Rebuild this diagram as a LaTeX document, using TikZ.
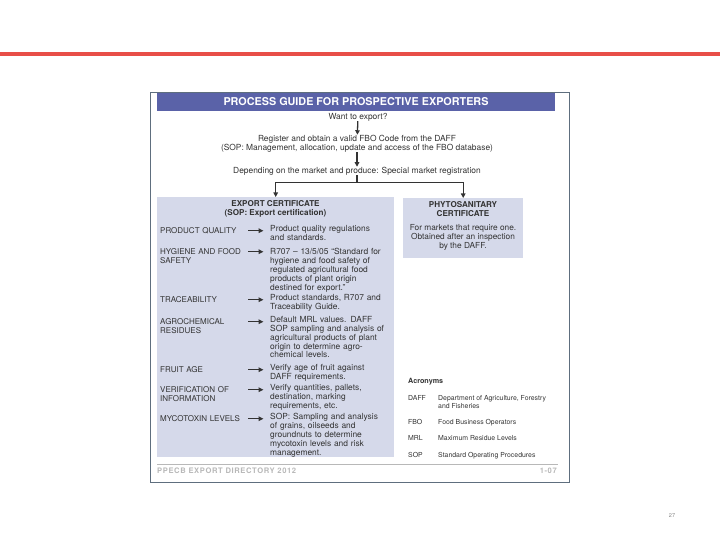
\documentclass[tikz,border=0pt]{standalone}
\usepackage{fontspec}
\setmainfont{TeX Gyre Heros}
\usetikzlibrary{arrows.meta,calc}
\definecolor{redline}{HTML}{E84E48}
\definecolor{hdrblue}{HTML}{5A62A8}
\definecolor{panelbg}{HTML}{D5D9EA}
\definecolor{framec}{HTML}{5E6E7E}
\definecolor{txt}{HTML}{333333}
\definecolor{footg}{HTML}{B8B8B8}
\tikzset{
  base/.style={inner sep=0pt, text=txt},
  flow/.style={base, font=\fontsize{8.4}{9}\selectfont, align=center},
  label/.style={base, anchor=north west, text width=88pt, align=left, font=\fontsize{8}{8.9}\selectfont},
  desc/.style={base, anchor=north west, text width=130pt, align=left, font=\fontsize{8.4}{8.9}\selectfont},
  panel/.style={fill=panelbg, draw=none, anchor=north west, inner sep=0pt},
  phead/.style={base, font=\bfseries\fontsize{8.1}{9.6}\selectfont, align=center},
  ptext/.style={base, font=\fontsize{8.3}{9.3}\selectfont, align=center},
  downarrow/.style={line width=1.3pt, draw=txt, -{Triangle[length=4.5pt,width=4.5pt]}},
  plainline/.style={line width=1.3pt, draw=txt},
  rowarrow/.style={line width=1.3pt, draw=txt, -{Triangle[length=5pt,width=4.5pt]}},
  acr/.style={base, anchor=north west, font=\fontsize{6.9}{8}\selectfont, align=left},
}
\begin{document}
\begin{tikzpicture}[x=1pt,y=-1pt]
\useasboundingbox (0,0) rectangle (720,540);
% top red rule
\fill[redline] (0,52.2) rectangle (720,55.8);
% frame
\draw[framec, line width=1.4pt] (150.7,92.3) rectangle (569.3,482.7);
% header
\fill[hdrblue] (157,93) rectangle (555,110.7);
\node[base, text=white, font=\bfseries\fontsize{10.8}{12}\selectfont] (title) at (356,101.9) {PROCESS GUIDE FOR PROSPECTIVE EXPORTERS};

% flow at top
\node[flow] (want) at (358,117) {Want to export?};
\node[flow] (reg) at (357,143.5) {Register and obtain a valid FBO Code from the DAFF\\(SOP: Management, allocation, update and access of the FBO database)};
\node[flow] (dep) at (357,171) {Depending on the market and produce: Special market registration};
\draw[downarrow] (want) -- (reg);
\draw[downarrow] (reg) -- (dep);

% panels
\node[panel, minimum width=237pt, minimum height=260pt] (lp) at (157,197) {};
\node[panel, minimum width=120pt, minimum height=60pt] (rp) at (403,198) {};

\coordinate (bar) at (357,182.5);
\draw[plainline] (dep) -- (bar);
\draw[plainline, line cap=rect] (lp.north |- bar) -- (rp.north |- bar);
\draw[downarrow] (lp.north |- bar) -- (lp.north);
\draw[downarrow] (rp.north |- bar) -- (rp.north);

% left panel heading
\node[phead] (ech) at (275.5,209) {EXPORT CERTIFICATE\\(SOP: Export certification)};

% rows
\node[label] (l1) at (160,227.5) {PRODUCT QUALITY};
\node[desc] (d1) at (270,225) {Product quality regulations\\and standards.};
\node[label] (l2) at (160,248.5) {HYGIENE AND FOOD\\SAFETY};
\node[desc] (d2) at (270,248) {R707 -- 13/5/05 ``Standard for\\hygiene and food safety of\\regulated agricultural food\\products of plant origin\\destined for export.''};
\node[label] (l3) at (160,296.5) {TRACEABILITY};
\node[desc] (d3) at (270,294) {Product standards, R707 and\\Traceability Guide.};
\node[label] (l4) at (160,318.5) {AGROCHEMICAL\\RESIDUES};
\node[desc] (d4) at (270,316) {Default MRL values. DAFF\\SOP sampling and analysis of\\agricultural products of plant\\origin to determine agro-\\chemical levels.};
\node[label] (l5) at (160,366.5) {FRUIT AGE};
\node[desc] (d5) at (270,364) {Verify age of fruit against\\DAFF requirements.};
\node[label] (l6) at (160,386.5) {VERIFICATION OF\\INFORMATION};
\node[desc] (d6) at (270,384) {Verify quantities, pallets,\\destination, marking\\requirements, etc.};
\node[label] (l7) at (160,415.5) {MYCOTOXIN LEVELS};
\node[desc] (d7) at (270,413) {SOP: Sampling and analysis\\of grains, oilseeds and\\groundnuts to determine\\mycotoxin levels and risk\\management.};
\foreach \i in {1,...,7}{
  \coordinate (s\i) at ([yshift=-3.2pt]l\i.north west);
  \draw[rowarrow] ($(s\i)+(88,0)$) -- ($(s\i -| d\i.west)+(-6.5,0)$);
}

% right panel
\node[phead] (pch) at (463,209) {PHYTOSANITARY\\CERTIFICATE};
\node[ptext] (pct) at (463,237.5) {For markets that require one.\\Obtained after an inspection\\by the DAFF.};

% acronyms
\node[base, anchor=west, font=\bfseries\fontsize{7.2}{8}\selectfont] (acrh) at (408,382) {Acronyms};
\node[acr] (a1) at (408,395) {DAFF};
\node[acr] (a1d) at (438,395) {Department of Agriculture, Forestry\\and Fisheries};
\node[acr] (a2) at (408,419) {FBO};
\node[acr] (a2d) at (438,419) {Food Business Operators};
\node[acr] (a3) at (408,435) {MRL};
\node[acr] (a3d) at (438,435) {Maximum Residue Levels};
\node[acr] (a4) at (408,452) {SOP};
\node[acr] (a4d) at (438,452) {Standard Operating Procedures};

% footer
\draw[footg, line width=0.8pt] (157,464.7) -- (558,464.7);
\node[base, anchor=west, text=footg, font=\bfseries\fontsize{7.6}{8}\selectfont\addfontfeature{LetterSpace=8}] (foot) at (157,471) {PPECB EXPORT DIRECTORY 2012};
\node[base, anchor=east, text=footg, font=\bfseries\fontsize{7.6}{8}\selectfont\addfontfeature{LetterSpace=8}] (pg) at (557,471) {1-07};

% page number
\node[base, text=gray, font=\fontsize{5.5}{6}\selectfont] (pnum) at (672,516) {27};
\end{tikzpicture}
\end{document}
